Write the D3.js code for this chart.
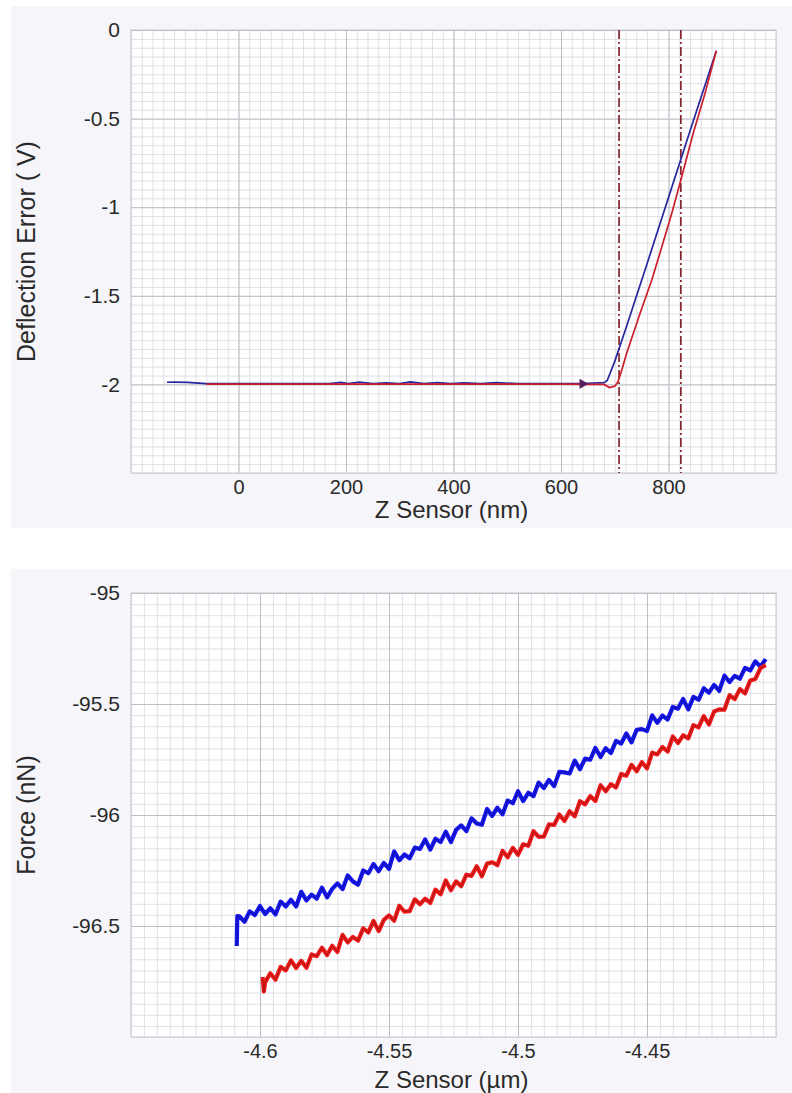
<!DOCTYPE html>
<html>
<head>
<meta charset="utf-8">
<script src="https://cdn.jsdelivr.net/npm/d3@7"></script>
<style>
  body { margin: 0; background: #ffffff; }
  text { font-family: "Liberation Sans", Arial, sans-serif; fill: #2a2a2a; }
</style>
</head>
<body>
<div id="chart"></div>
<script>
// ---- top chart data: deflection error vs z sensor ----
var defXTicks = [0, 200, 400, 600, 800];
var defXLabels = ["0", "200", "400", "600", "800"];
var defYTicks = [0, -0.5, -1, -1.5, -2];
var defYLabels = ["0", "-0.5", "-1", "-1.5", "-2"];

// approach curve (blue)
var defBlueZ = [-133, -120, -95, -60, 0, 60, 120, 170, 190, 205, 225, 250, 275, 300, 320, 345, 370, 395, 420, 450, 480, 520, 580, 640, 680, 686, 700, 720, 760, 800, 840, 889];
var defBlueV = [-1.988, -1.987, -1.989, -1.996, -1.996, -1.996, -1.996, -1.996, -1.989, -1.996, -1.987, -1.996, -1.991, -1.996, -1.986, -1.996, -1.990, -1.996, -1.991, -1.996, -1.990, -1.996, -1.996, -1.995, -1.99, -1.978, -1.87, -1.69, -1.32, -0.945, -0.57, -0.117];

// retract curve (red)
var defRedZ = [-60, 0, 100, 200, 300, 400, 500, 600, 650, 680, 690, 700, 706, 712, 722, 747, 769, 784, 806, 823, 846, 868, 889];
var defRedV = [-1.998, -1.998, -1.998, -1.998, -1.998, -1.998, -1.999, -1.999, -2.0, -2.0, -2.018, -2.01, -1.985, -1.93, -1.825, -1.60, -1.41, -1.26, -1.035, -0.846, -0.583, -0.357, -0.117];

// fit region markers and direction arrow
var defMarkers = [708, 823];
var defArrow = [640, -1.997];

// ---- bottom chart data: force vs z sensor ----
var forceXTicks = [-4.6, -4.55, -4.5, -4.45];
var forceXLabels = ["-4.6", "-4.55", "-4.5", "-4.45"];
var forceYTicks = [-95, -95.5, -96, -96.5];
var forceYLabels = ["-95", "-95.5", "-96", "-96.5"];

var forceBlueZ = [-4.6090, -4.6088, -4.608, -4.606, -4.604, -4.602, -4.600, -4.598, -4.596, -4.594, -4.592, -4.590,
  -4.588, -4.586, -4.584, -4.582, -4.580, -4.578, -4.576, -4.574, -4.572, -4.570, -4.568, -4.566, -4.564, -4.562,
  -4.560, -4.558, -4.556, -4.554, -4.552, -4.550, -4.548, -4.546, -4.544, -4.542, -4.540, -4.538, -4.536, -4.534,
  -4.532, -4.530, -4.528, -4.526, -4.524, -4.522, -4.520, -4.518, -4.516, -4.514, -4.512, -4.510, -4.508, -4.506,
  -4.504, -4.502, -4.500, -4.498, -4.496, -4.494, -4.492, -4.490, -4.488, -4.486, -4.484, -4.482, -4.480, -4.478,
  -4.476, -4.474, -4.472, -4.470, -4.468, -4.466, -4.464, -4.462, -4.460, -4.458, -4.456, -4.454, -4.452, -4.450,
  -4.448, -4.446, -4.444, -4.442, -4.440, -4.438, -4.436, -4.434, -4.432, -4.430, -4.428, -4.426, -4.424, -4.422,
  -4.420, -4.418, -4.416, -4.414, -4.412, -4.410, -4.408, -4.406, -4.404];
var forceBlueF = [-96.590, -96.455,
  -96.456, -96.481, -96.434, -96.451, -96.410, -96.446, -96.420, -96.448, -96.390, -96.412,
  -96.382, -96.412, -96.346, -96.385, -96.359, -96.377, -96.327, -96.371, -96.333, -96.308,
  -96.334, -96.272, -96.299, -96.314, -96.250, -96.262, -96.221, -96.253, -96.216, -96.243,
  -96.164, -96.204, -96.178, -96.195, -96.147, -96.153, -96.110, -96.156, -96.107, -96.122,
  -96.075, -96.122, -96.067, -96.047, -96.073, -96.015, -96.038, -96.044, -95.973, -96.004,
  -95.967, -95.997, -95.935, -95.947, -95.893, -95.937, -95.900, -95.915, -95.854, -95.879,
  -95.842, -95.870, -95.806, -95.808, -95.813, -95.755, -95.794, -95.746, -95.751, -95.698,
  -95.739, -95.699, -95.721, -95.666, -95.678, -95.633, -95.673, -95.616, -95.613, -95.622,
  -95.551, -95.585, -95.552, -95.570, -95.513, -95.521, -95.477, -95.524, -95.468, -95.481,
  -95.429, -95.449, -95.414, -95.441, -95.372, -95.401, -95.373, -95.386, -95.337, -95.349,
  -95.308, -95.332, -95.298];

var forceRedZ = [-4.5990, -4.5985, -4.598, -4.596, -4.594, -4.592, -4.590, -4.588, -4.586, -4.584, -4.582, -4.580,
  -4.578, -4.576, -4.574, -4.572, -4.570, -4.568, -4.566, -4.564, -4.562, -4.560, -4.558, -4.556, -4.554, -4.552,
  -4.550, -4.548, -4.546, -4.544, -4.542, -4.540, -4.538, -4.536, -4.534, -4.532, -4.530, -4.528, -4.526, -4.524,
  -4.522, -4.520, -4.518, -4.516, -4.514, -4.512, -4.510, -4.508, -4.506, -4.504, -4.502, -4.500, -4.498, -4.496,
  -4.494, -4.492, -4.490, -4.488, -4.486, -4.484, -4.482, -4.480, -4.478, -4.476, -4.474, -4.472, -4.470, -4.468,
  -4.466, -4.464, -4.462, -4.460, -4.458, -4.456, -4.454, -4.452, -4.450, -4.448, -4.446, -4.444, -4.442, -4.440,
  -4.438, -4.436, -4.434, -4.432, -4.430, -4.428, -4.426, -4.424, -4.422, -4.420, -4.418, -4.416, -4.414, -4.412,
  -4.410, -4.408, -4.406, -4.404];
var forceRedF = [-96.730, -96.795,
  -96.753, -96.713, -96.742, -96.684, -96.700, -96.655, -96.689, -96.657, -96.688, -96.628,
  -96.636, -96.598, -96.631, -96.589, -96.617, -96.540, -96.574, -96.549, -96.566, -96.511,
  -96.529, -96.477, -96.523, -96.472, -96.452, -96.476, -96.409, -96.435, -96.433, -96.380,
  -96.402, -96.377, -96.396, -96.336, -96.357, -96.295, -96.339, -96.299, -96.321, -96.269,
  -96.274, -96.231, -96.276, -96.219, -96.213, -96.226, -96.162, -96.190, -96.148, -96.179,
  -96.132, -96.139, -96.073, -96.098, -96.098, -96.042, -96.045, -95.998, -96.027, -95.983,
  -96.006, -95.938, -95.952, -95.915, -95.937, -95.866, -95.893, -95.861, -95.876, -95.815,
  -95.823, -95.774, -95.803, -95.762, -95.790, -95.719, -95.727, -95.694, -95.714, -95.646,
  -95.676, -95.641, -95.655, -95.595, -95.605, -95.555, -95.592, -95.534, -95.524, -95.526,
  -95.460, -95.478, -95.433, -95.452, -95.394, -95.387, -95.338, -95.325];

// ---- page ----
var svg = d3.select("#chart").append("svg")
    .attr("width", 792)
    .attr("height", 1093);

// draws the grey panel, the grid, tick labels and axis titles, returns the scales
function drawFrame(o) {
  svg.append("rect")
      .attr("x", 11).attr("y", o.panelTop)
      .attr("width", 781).attr("height", o.panelBottom - o.panelTop)
      .attr("fill", "#f6f6fa");

  var w = o.right - o.left,
      h = o.bottom - o.top;

  var x = d3.scaleLinear().domain(o.xDomain).range([0, w]);
  var y = d3.scaleLinear().domain(o.yDomain).range([h, 0]);

  var g = svg.append("g")
      .attr("transform", "translate(" + o.left + "," + o.top + ")");

  g.append("rect")
      .attr("width", w).attr("height", h)
      .attr("fill", "#ffffff");

  // minor grid
  g.append("g")
      .attr("transform", "translate(0," + h + ")")
      .call(d3.axisBottom(x).ticks(o.xMinor).tickSize(-h).tickFormat(""))
      .call(function(s) { s.select(".domain").remove(); })
      .selectAll("line").attr("stroke", "#e0e0e7");
  g.append("g")
      .call(d3.axisLeft(y).ticks(o.yMinor).tickSize(-w).tickFormat(""))
      .call(function(s) { s.select(".domain").remove(); })
      .selectAll("line").attr("stroke", "#e0e0e7");

  // major grid
  g.append("g")
      .attr("transform", "translate(0," + h + ")")
      .call(d3.axisBottom(x).tickValues(o.xTicks).tickSize(-h).tickFormat(""))
      .call(function(s) { s.select(".domain").remove(); })
      .selectAll("line").attr("stroke", "#bdbdc5");
  g.append("g")
      .call(d3.axisLeft(y).tickValues(o.yTicks).tickSize(-w).tickFormat(""))
      .call(function(s) { s.select(".domain").remove(); })
      .selectAll("line").attr("stroke", "#bdbdc5");

  // border
  g.append("rect")
      .attr("width", w).attr("height", h)
      .attr("fill", "none")
      .attr("stroke", "#c6c6ce");

  // tick labels
  g.append("g")
      .attr("transform", "translate(0," + h + ")")
      .call(d3.axisBottom(x).tickValues(o.xTicks).tickSize(0).tickPadding(7)
          .tickFormat(function(d, i) { return o.xLabels[i]; }))
      .call(function(s) { s.select(".domain").remove(); })
      .selectAll("text")
      .attr("font-size", "20px")
      .attr("font-family", "Liberation Sans, Arial, sans-serif")
      .attr("fill", "#2a2a2a");
  g.append("g")
      .call(d3.axisLeft(y).tickValues(o.yTicks).tickSize(0).tickPadding(11)
          .tickFormat(function(d, i) { return o.yLabels[i]; }))
      .call(function(s) { s.select(".domain").remove(); })
      .selectAll("text")
      .attr("font-size", "21px")
      .attr("font-family", "Liberation Sans, Arial, sans-serif")
      .attr("fill", "#2a2a2a");

  // axis titles
  svg.append("text")
      .attr("x", o.left + w / 2 - 2)
      .attr("y", o.xTitleY)
      .attr("text-anchor", "middle")
      .attr("font-size", "24px")
      .text(o.xTitle);
  svg.append("text")
      .attr("transform", "translate(35," + (o.top + h / 2) + ") rotate(-90)")
      .attr("text-anchor", "middle")
      .attr("font-size", "25px")
      .text(o.yTitle);

  return {g: g, x: x, y: y, h: h};
}

// ---- top chart ----
var defChart = drawFrame({
  panelTop: 6, panelBottom: 528,
  left: 131, right: 776, top: 30, bottom: 473,
  xDomain: [-200, 1000], yDomain: [-2.5, 0],
  xMinor: 60, yMinor: 50,
  xTicks: defXTicks, xLabels: defXLabels,
  yTicks: defYTicks, yLabels: defYLabels,
  xTitle: "Z Sensor (nm)", xTitleY: 518,
  yTitle: "Deflection Error ( V)"
});

// fit region markers
defChart.g.selectAll(".marker")
    .data(defMarkers)
  .enter().append("line")
    .attr("class", "marker")
    .attr("x1", function(d) { return defChart.x(d); })
    .attr("x2", function(d) { return defChart.x(d); })
    .attr("y1", 0)
    .attr("y2", defChart.h)
    .attr("stroke", "#7a1a22")
    .attr("stroke-width", 1.6)
    .attr("stroke-dasharray", "9,3,2,3");

var defLine = d3.line()
    .x(function(d) { return defChart.x(d[0]); })
    .y(function(d) { return defChart.y(d[1]); });

defChart.g.append("path")
    .datum(d3.zip(defBlueZ, defBlueV))
    .attr("fill", "none")
    .attr("stroke", "#26269e")
    .attr("stroke-width", 1.7)
    .attr("d", defLine);

defChart.g.append("path")
    .datum(d3.zip(defRedZ, defRedV))
    .attr("fill", "none")
    .attr("stroke", "#cc1f2c")
    .attr("stroke-width", 1.7)
    .attr("d", defLine);

// direction arrow
defChart.g.append("path")
    .attr("d", d3.symbol().type(d3.symbolTriangle).size(45))
    .attr("transform", "translate(" + defChart.x(defArrow[0]) + "," + defChart.y(defArrow[1]) + ") rotate(90)")
    .attr("fill", "#55205e");

// ---- bottom chart ----
var forceChart = drawFrame({
  panelTop: 569, panelBottom: 1093,
  left: 131, right: 776, top: 593, bottom: 1037,
  xDomain: [-4.65, -4.40], yDomain: [-97, -95],
  xMinor: 50, yMinor: 40,
  xTicks: forceXTicks, xLabels: forceXLabels,
  yTicks: forceYTicks, yLabels: forceYLabels,
  xTitle: "Z Sensor (\u00b5m)", xTitleY: 1088,
  yTitle: "Force (nN)"
});

var forceLine = d3.line()
    .x(function(d) { return forceChart.x(d[0]); })
    .y(function(d) { return forceChart.y(d[1]); });

// each curve: a broad coloured stroke with a thin dark trace on top
var forceCurves = [
  {z: forceBlueZ, f: forceBlueF, color: "#1616f0", dark: "#0c0c70"},
  {z: forceRedZ, f: forceRedF, color: "#f21a1a", dark: "#701010"}
];

forceCurves.forEach(function(c) {
  var pts = d3.zip(c.z, c.f);
  forceChart.g.append("path")
      .datum(pts)
      .attr("fill", "none")
      .attr("stroke", c.color)
      .attr("stroke-width", 4.2)
      .attr("stroke-linejoin", "round")
      .attr("d", forceLine);
  forceChart.g.append("path")
      .datum(pts)
      .attr("fill", "none")
      .attr("stroke", c.dark)
      .attr("stroke-opacity", 0.6)
      .attr("stroke-width", 1)
      .attr("d", forceLine);
});
</script>
</body>
</html>
